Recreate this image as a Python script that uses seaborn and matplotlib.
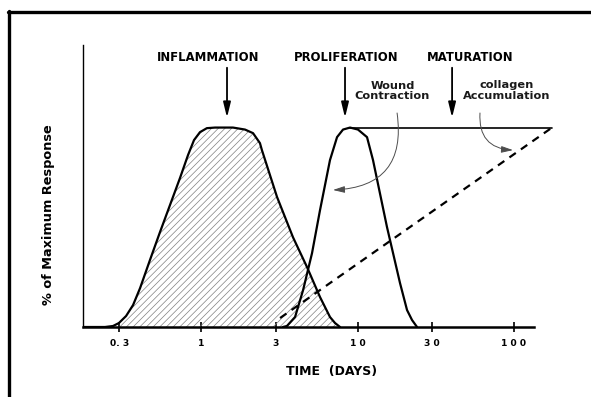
import matplotlib
matplotlib.use("Agg")
import matplotlib.pyplot as plt
import seaborn as sns
from matplotlib.lines import Line2D

# --- data (days on log axis, % of maximum response) ---
infl_days = [0.176, 0.2435, 0.274, 0.299, 0.332, 0.368, 0.408, 0.472, 0.547,
             0.634, 0.734, 0.826, 0.902, 0.985, 1.09, 1.23, 1.60, 1.91, 2.15,
             2.38, 2.45, 3.06, 3.87, 4.76, 5.76, 6.67, 7.18, 7.73]
infl_resp = [0, 0, 0.5, 2, 5.5, 11, 19.5, 33.6, 47.6,
             61.2, 74.7, 86.2, 93.7, 97.7, 99.7, 100, 100, 99, 97.2,
             92.2, 88.7, 65.2, 45, 30, 15, 5, 2, 0]

prolif_days = [3.34, 3.54, 3.99, 4.49, 5.12, 5.76, 6.67, 7.40, 8.08, 8.96,
               10.07, 11.5, 12.56, 15.43, 18.69, 20.72, 22.3, 24.0]
prolif_resp = [0, 0.5, 5, 18.5, 37, 58.6, 83.7, 95.2, 99, 100,
               99, 95.2, 83.7, 50.1, 22, 8.5, 3.5, 0]

plateau_days = [8.96, 175]
plateau_resp = [100, 100]

collagen_days = [3.2, 175]
collagen_resp = [4.5, 100]

tick_vals = [0.3, 1, 3, 10, 30, 100]
tick_labels = ["0. 3", "1", "3", "1 0", "3 0", "1 0 0"]

# phase labels: (text, x of label, x of arrow)
phases = [("INFLAMMATION", 1.117, 1.466),
          ("PROLIFERATION", 8.43, 8.32),
          ("MATURATION", 52.3, 40.2)]

sns.set_style("white")
plt.rcParams["font.family"] = ["DejaVu Sans"]
plt.rcParams["text.color"] = "black"
plt.rcParams["xtick.color"] = "black"
plt.rcParams["hatch.linewidth"] = 0.5

fig = plt.figure(figsize=(5.91, 3.97), dpi=100)
ax = fig.add_axes([83 / 591, 1 - 327 / 397, (561 - 83) / 591, (327 - 45) / 397])
ax.set_xscale("log")

# hatched inflammation area
ax.fill_between(infl_days, infl_resp, facecolor="none", edgecolor="0.5",
                hatch="/////", linewidth=0)

sns.lineplot(x=infl_days, y=infl_resp, sort=False, estimator=None,
             color="black", lw=1.6, ax=ax)
sns.lineplot(x=prolif_days, y=prolif_resp, sort=False, estimator=None,
             color="black", lw=1.6, ax=ax)
sns.lineplot(x=plateau_days, y=plateau_resp, sort=False, estimator=None,
             color="black", lw=1.2, ax=ax)
sns.lineplot(x=collagen_days, y=collagen_resp, sort=False, estimator=None,
             color="black", lw=1.6, ax=ax, linestyle=(0, (3.5, 2.8)))

ax.set_xlim(0.1762, 199.6)
ax.set_ylim(0, 141.4)

# phase labels and straight arrows
for name, tx, ax_x in phases:
    ax.text(tx, 135.1, name, ha="center", va="center", fontsize=8.4,
            fontweight="bold", color="black")
    ax.annotate("", xy=(ax_x, 105.0), xytext=(ax_x, 130.0),
                arrowprops=dict(arrowstyle="-|>,head_length=0.9,head_width=0.22",
                                color="black", lw=1.3, shrinkA=0, shrinkB=0))

ax.text(16.7, 118.3, "Wound\nContraction", ha="center", va="center",
        fontsize=8.2, fontweight="bold", linespacing=1.1, color="0.1")
ax.text(90.2, 118.5, "collagen\nAccumulation", ha="center", va="center",
        fontsize=8.2, fontweight="bold", linespacing=1.1, color="0.1")

# curved pointer arrows
ax.annotate("", xy=(6.97, 68.7), xytext=(17.9, 107.3),
            arrowprops=dict(arrowstyle="-|>,head_length=0.7,head_width=0.2",
                            color="0.3", lw=0.7,
                            connectionstyle="arc3,rad=-0.55",
                            shrinkA=0, shrinkB=0))
ax.annotate("", xy=(98.5, 88.7), xytext=(60.6, 107.3),
            arrowprops=dict(arrowstyle="-|>,head_length=0.7,head_width=0.2",
                            color="0.3", lw=0.7,
                            connectionstyle="arc3,rad=0.5",
                            shrinkA=0, shrinkB=0))

# axes styling
sns.despine(ax=ax)
ax.spines["bottom"].set_bounds(0.1762, 134)
ax.spines["bottom"].set_linewidth(1.8)
ax.spines["left"].set_linewidth(1.0)
ax.spines["bottom"].set_color("black")
ax.spines["left"].set_color("black")
ax.set_xticks(tick_vals)
ax.set_xticklabels(tick_labels, fontsize=6.6, fontweight="bold", color="black")
ax.minorticks_off()
ax.set_yticks([])
ax.tick_params(axis="x", direction="inout", length=7, width=1.2, pad=5,
               colors="black", bottom=True)
ax.set_xlabel("")
ax.set_ylabel("")

fig.text(332 / 591, 1 - 371 / 397, "TIME  (DAYS)", ha="center", va="center",
         fontsize=9, fontweight="bold", color="black")
fig.text(49 / 591, 1 - 215 / 397, "% of Maximum Response", ha="center",
         va="center", rotation=90, fontsize=9.3, fontweight="bold",
         color="black")

# page frame (top and left edges visible)
fig.add_artist(Line2D([8 / 591, 1], [1 - 12 / 397] * 2, lw=2.4,
                      color="black", transform=fig.transFigure))
fig.add_artist(Line2D([9 / 591] * 2, [0, 1 - 10.5 / 397], lw=2.4,
                      color="black", transform=fig.transFigure))

fig.savefig("out.png", dpi=100)
